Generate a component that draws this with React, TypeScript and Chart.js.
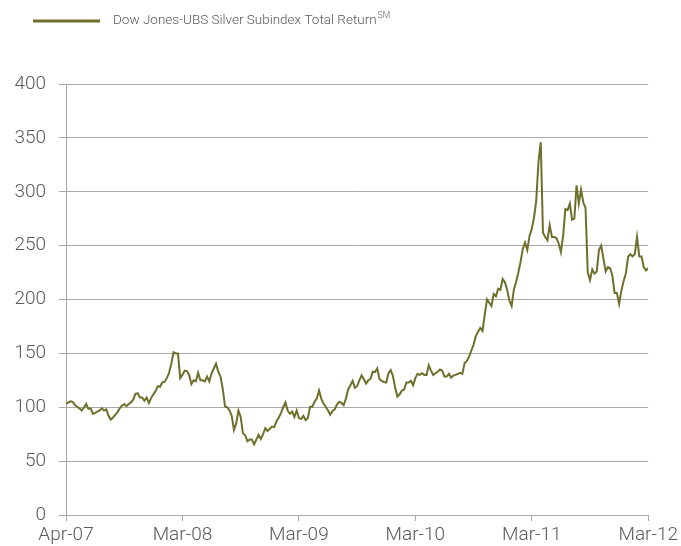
import React, { useEffect, useRef } from "react";
import { Chart, registerables } from "chart.js";

Chart.register(...registerables);

const seriesName = "Dow Jones-UBS Silver Subindex Total Return";
const seriesMark = "SM";
const tickLabels = ["Apr-07", "Mar-08", "Mar-09", "Mar-10", "Mar-11", "Mar-12"];
const weeksPerTick = 52;
const yMin = 0;
const yMax = 400;
const yStep = 50;

// weekly index values, Apr-07 .. Mar-12
const silverIndex = [
  103, 104.5, 105.5, 105, 102, 100.5, 99, 97, 99.5, 103,
  98.5, 99, 94, 94.5, 96, 97, 99, 97, 98, 92,
  88.5, 90.5, 93, 95.5, 99, 101.5, 103, 101, 103, 104.5,
  107, 112.5, 113, 109, 109, 106, 109, 104, 108.5, 112,
  115, 119.5, 119, 123, 123.5, 127, 131.7, 140, 151, 150,
  150, 127, 130, 134, 133.5, 130, 121.5, 125, 124, 132,
  125, 125, 124, 128.5, 124, 131.5, 136, 140.5, 133, 128.5,
  117, 101, 100, 97, 92, 79, 85, 97, 91, 76,
  74, 68.5, 70, 70, 65.5, 70, 74.5, 70.5, 75, 80.5,
  78, 80, 82, 81.5, 87, 90.5, 94.5, 100, 104.5, 97,
  94, 96, 91, 97, 90, 89, 92, 88, 90, 100.5,
  100.5, 105, 108, 115.5, 108, 103.5, 100.5, 97, 93, 96.5,
  98, 102.5, 105, 104, 102, 108, 116.5, 120.4, 124.5, 118,
  119.5, 125, 129.5, 126, 122, 125, 126.5, 133, 132.7, 136,
  126, 124.5, 123.5, 123, 131.5, 134.5, 129, 118, 110, 112,
  115.5, 116.5, 123, 123, 124.5, 120.4, 127, 131, 130, 131.5,
  130, 130, 139, 134, 130, 131.5, 133, 135, 134, 128.5,
  128.5, 131, 127.5, 129.5, 130, 131, 132, 131, 141, 143,
  147, 152.5, 158, 166, 170, 173.5, 171, 186, 200, 197,
  194, 205, 203, 210, 209, 219, 216, 209, 199, 194,
  209, 216.5, 225, 235, 247, 253, 246, 259, 265.5, 276,
  292, 328, 346, 262, 258, 255, 269, 258, 258, 257,
  252, 244, 259, 284, 283, 289, 274, 275, 306, 289,
  302, 290, 285, 225, 218, 228, 224, 226, 246, 250,
  238, 226, 230, 229, 222, 206, 206, 196, 208, 217,
  224, 239.5, 242, 240, 242, 258, 240, 240, 230, 227,
  229,
];

const lineColor = "#6f6f2c";
const gridColor = "#a8a8a8";
const textColor = "#595959";
const fontFamily = "Roboto, 'Open Sans', sans-serif";

const legendPlugin = {
  id: "topLegend",
  afterDraw(chart: any) {
    const ctx = chart.ctx as CanvasRenderingContext2D;
    ctx.save();
    ctx.strokeStyle = lineColor;
    ctx.lineWidth = 3;
    ctx.beginPath();
    ctx.moveTo(33, 21);
    ctx.lineTo(100, 21);
    ctx.stroke();
    ctx.fillStyle = textColor;
    ctx.textBaseline = "middle";
    ctx.textAlign = "left";
    ctx.font = `300 13.5px ${fontFamily}`;
    ctx.fillText(seriesName, 113, 21);
    const w = ctx.measureText(seriesName).width;
    ctx.font = `300 8.5px ${fontFamily}`;
    ctx.fillText(seriesMark, 113 + w + 1, 16);
    ctx.restore();
  },
};

export default function App() {
  const canvasRef = useRef<HTMLCanvasElement | null>(null);

  useEffect(() => {
    document.body.style.margin = "0";
    const canvas = canvasRef.current;
    if (!canvas) return;
    const chart = new Chart(canvas, {
      type: "line",
      data: {
        datasets: [
          {
            label: seriesName,
            data: silverIndex.map((v, i) => ({ x: i, y: v })),
            borderColor: lineColor,
            borderWidth: 2,
            pointRadius: 0,
            tension: 0,
            fill: false,
          },
        ],
      },
      options: {
        animation: false,
        responsive: false,
        devicePixelRatio: 1,
        layout: { padding: { top: 84, right: 30, left: 0, bottom: 0 } },
        plugins: {
          legend: { display: false },
          tooltip: { enabled: false },
        },
        scales: {
          x: {
            type: "linear",
            min: 0,
            max: weeksPerTick * (tickLabels.length - 1),
            afterFit: (s: any) => {
              s.height = 31;
            },
            ticks: {
              stepSize: weeksPerTick,
              autoSkip: false,
              maxRotation: 0,
              padding: 3,
              color: textColor,
              font: { family: fontFamily, size: 19, weight: "300" as any },
              callback: (v: any) => tickLabels[Math.round(Number(v) / weeksPerTick)] ?? "",
            },
            grid: {
              drawOnChartArea: false,
              drawTicks: true,
              tickLength: 6,
              color: gridColor,
            },
            border: { color: gridColor, width: 1 },
          },
          y: {
            min: yMin,
            max: yMax,
            afterFit: (s: any) => {
              s.width = 66;
            },
            ticks: {
              stepSize: yStep,
              padding: 13,
              color: textColor,
              font: { family: fontFamily, size: 19, weight: "300" as any },
            },
            grid: {
              color: gridColor,
              tickLength: 7,
              lineWidth: 1,
            },
            border: { color: gridColor, width: 1 },
          },
        },
      },
      plugins: [legendPlugin],
    });
    return () => chart.destroy();
  }, []);

  return (
    <div style={{ width: 681, height: 546 }}>
      <canvas ref={canvasRef} width={681} height={546} />
    </div>
  );
}
